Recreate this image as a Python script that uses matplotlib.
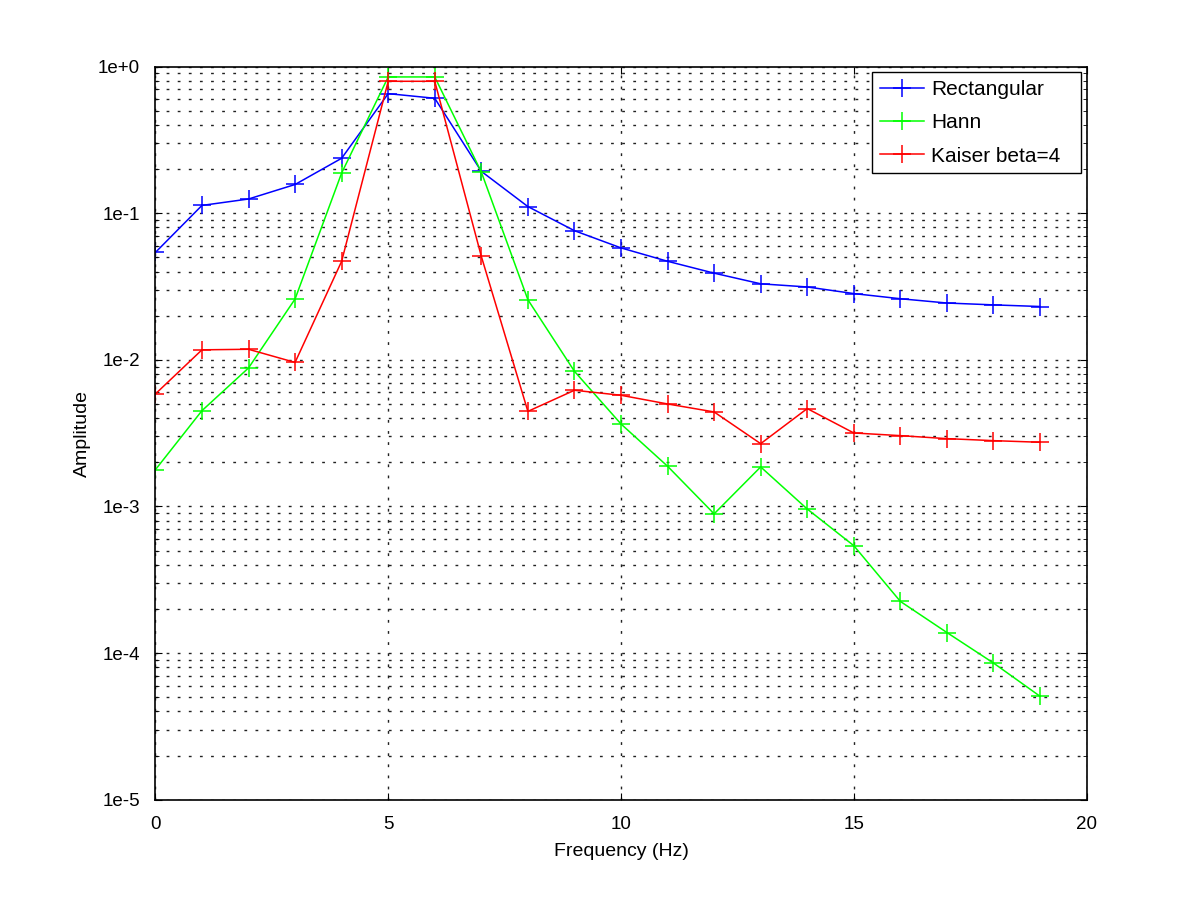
import numpy as np
import matplotlib
matplotlib.use("Agg")
import matplotlib.pyplot as plt
from matplotlib.ticker import FixedLocator, FuncFormatter, LogLocator, NullFormatter

plt.rcParams['font.family'] = ['Liberation Sans', 'DejaVu Sans']

# frequency bins (Hz)
freq = list(range(20))

# amplitude spectra
rect = [0.054, 0.113, 0.125, 0.157, 0.237, 0.654, 0.608, 0.193, 0.111, 0.076,
        0.058, 0.047, 0.039, 0.033, 0.0314, 0.0283, 0.0261, 0.0244, 0.0237, 0.0231]
hann = [0.00178, 0.0045, 0.0088, 0.026, 0.188, 0.85, 0.85, 0.191, 0.0257, 0.00835,
        0.00365, 0.00188, 0.00089, 0.00186, 0.00096, 0.00054, 0.000225, 0.000138,
        8.55e-5, 5.07e-5]
kaiser = [0.00585, 0.0117, 0.0118, 0.0096, 0.047, 0.794, 0.794, 0.0508, 0.00445, 0.0062,
          0.00573, 0.0050, 0.00441, 0.00268, 0.00465, 0.00317, 0.00304, 0.0029,
          0.00281, 0.00274]

labels = ["Rectangular", "Hann", "Kaiser beta=4"]
colors = ["#0000ff", "#00ff00", "#ff0000"]

fig = plt.figure(figsize=(12, 9), dpi=100)
ax = fig.add_axes([0.1295, 0.1115, 0.776, 0.8145])

for y, lab, c in zip([rect, hann, kaiser], labels, colors):
    ax.plot(freq, y, color=c, marker="+", markersize=13, markeredgewidth=1.1,
            linewidth=1.1, label=lab)

ax.set_yscale("log")
ax.set_xlim(0, 20)
ax.set_ylim(1e-5, 1)
ax.xaxis.set_major_locator(FixedLocator([0, 5, 10, 15, 20]))
ax.yaxis.set_major_locator(LogLocator(base=10, numticks=10))
ax.yaxis.set_minor_locator(LogLocator(base=10, subs=np.arange(2, 10), numticks=20))
ax.yaxis.set_minor_formatter(NullFormatter())

def fmt(v, pos):
    e = int(round(np.log10(v)))
    return "1e+0" if e == 0 else "1e%d" % e

ax.yaxis.set_major_formatter(FuncFormatter(fmt))

# dotted grid like the gnuplot output
ax.grid(True, which="major", axis="both", color="#222222", linestyle=(0, (2, 6)), linewidth=1)
ax.grid(True, which="minor", axis="y", color="#222222", linestyle=(0, (2, 6)), linewidth=1)

ax.tick_params(which="both", direction="in", top=True, right=True, labelsize=13.5)
ax.tick_params(which="major", length=5)
ax.tick_params(which="minor", length=3)
ax.tick_params(axis="x", pad=12)
ax.tick_params(axis="y", pad=11)
for s in ax.spines.values():
    s.set_linewidth(1.2)

ax.set_xlabel("Frequency (Hz)", fontsize=14, labelpad=7)
ax.set_ylabel("Amplitude", fontsize=14, labelpad=5)

# wide legend box, contents left-aligned (gnuplot style)
leg = ax.legend(loc="upper left", bbox_to_anchor=(0.770, 0.9922, 0.2235, 0),
                mode="expand", borderaxespad=0, fontsize=15, fancybox=False,
                framealpha=1, edgecolor="black", handlelength=2.1,
                handletextpad=0.35, borderpad=0.38, labelspacing=0.68)
leg.get_frame().set_linewidth(1.0)

fig.savefig("out.png", dpi=100)
